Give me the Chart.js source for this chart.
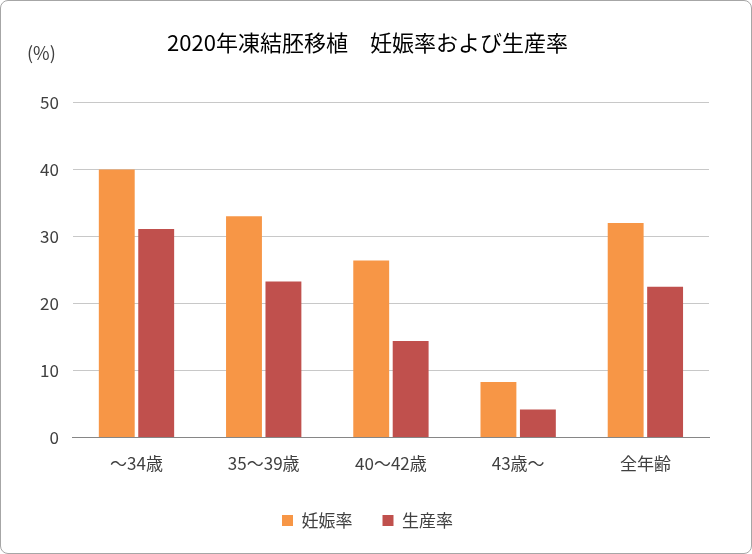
<!DOCTYPE html>
<html><head><meta charset="utf-8">
<script src="https://cdn.jsdelivr.net/npm/chart.js@4"></script>
<style>
html,body{margin:0;padding:0;background:#fff;}
#wrap{position:relative;width:750px;height:552px;border:1px solid #a6a6a6;border-radius:8px;box-sizing:content-box;}
#unit{position:absolute;left:26px;top:38px;font:18px "Noto Sans CJK JP";color:#404040;}
</style></head><body>
<div id="wrap"><canvas id="c" width="750" height="552"></canvas><div id="unit">(%)</div></div>
<script>
const categories = ['～34歳', '35～39歳', '40～42歳', '43歳～', '全年齢'];
const pregnancyRate = [40.0, 33.0, 26.4, 8.3, 32.0];
const birthRate = [31.1, 23.3, 14.4, 4.2, 22.5];
const yTicks = [0, 10, 20, 30, 40, 50];

const font = 'Noto Sans CJK JP';
new Chart(document.getElementById('c').getContext('2d'), {
  type: 'bar',
  data: {
    labels: categories,
    datasets: [
      { label: '妊娠率', data: pregnancyRate, backgroundColor: '#F79646', categoryPercentage: 0.62, barPercentage: 0.91 },
      { label: '生産率', data: birthRate, backgroundColor: '#C0504D', categoryPercentage: 0.62, barPercentage: 0.91 }
    ]
  },
  options: {
    responsive: false, animation: false,
    layout: { padding: { left: 25, right: 42, top: 20, bottom: 14 } },
    plugins: {
      title: { display: true, text: '2020年凍結胚移植　妊娠率および生産率', color: '#000', font: { family: font, size: 22, weight: 'normal' }, padding: { top: 8, bottom: 47 } },
      legend: { position: 'bottom', labels: { boxWidth: 11, boxHeight: 11, padding: 30, color: '#404040', font: { family: font, size: 17 } } },
      tooltip: { enabled: false }
    },
    scales: {
      x: {
        grid: { display: false },
        border: { color: '#868686' },
        ticks: { color: '#404040', font: { family: font, size: 17 }, padding: 8 }
      },
      y: {
        min: 0, max: 50,
        afterBuildTicks: s => { s.ticks = yTicks.map(v => ({ value: v })); },
        grid: { color: '#c8c8c8', drawTicks: false },
        border: { display: false },
        ticks: { color: '#404040', font: { family: font, size: 17 }, padding: 14 }
      }
    }
  }
});
</script></body></html>
